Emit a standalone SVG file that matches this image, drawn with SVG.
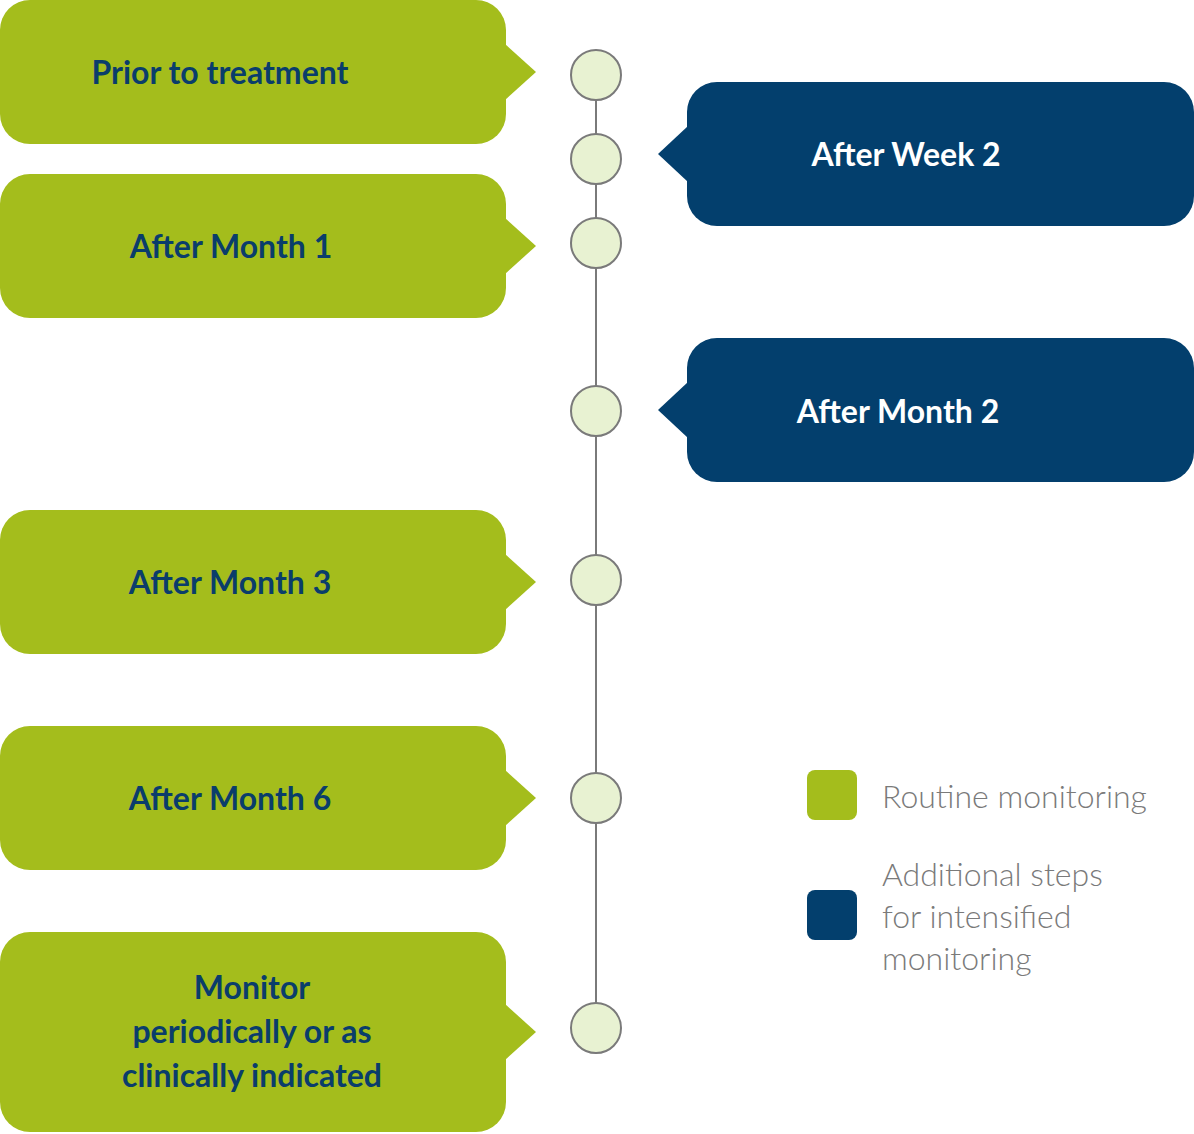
<svg xmlns="http://www.w3.org/2000/svg" width="1194" height="1134" viewBox="0 0 1194 1134">
<style>
.g{fill:#a4bd1c}.b{fill:#033f6d}
.tg{font-family:Lato,"Open Sans",sans-serif;font-weight:bold;font-size:32px;fill:#0a3d6b;text-anchor:middle}
.tb{font-family:Lato,"Open Sans",sans-serif;font-weight:bold;font-size:32px;fill:#fff;text-anchor:middle}
.dot{fill:#e8f2d2;stroke:#7a7a7a;stroke-width:2}
.lg{font-family:Lato,"Open Sans",sans-serif;font-weight:300;font-size:32px;fill:#7a7a7a}
</style>
<g id="connectors"><line x1="596" y1="75" x2="596" y2="1028" stroke="#7a7a7a" stroke-width="2"/></g>
<g id="n1"><rect class="g" x="0" y="0" width="506" height="144" rx="30"/><path class="g" d="M505 44L536 72L505 100Z"/><text class="tg" x="220" y="84">Prior to treatment</text></g>
<g id="n2"><rect class="g" x="0" y="174" width="506" height="144" rx="30"/><path class="g" d="M505 218L536 246L505 274Z"/><text class="tg" x="231" y="258">After Month 1</text></g>
<g id="n3"><rect class="g" x="0" y="510" width="506" height="144" rx="30"/><path class="g" d="M505 554L536 582L505 610Z"/><text class="tg" x="230" y="594">After Month 3</text></g>
<g id="n4"><rect class="g" x="0" y="726" width="506" height="144" rx="30"/><path class="g" d="M505 770L536 798L505 826Z"/><text class="tg" x="230" y="810">After Month 6</text></g>
<g id="n5"><rect class="g" x="0" y="932" width="506" height="200" rx="30"/><path class="g" d="M505 1004L536 1032L505 1060Z"/><text class="tg" x="252" y="999">Monitor</text><text class="tg" x="252" y="1043">periodically or as</text><text class="tg" x="252" y="1087">clinically indicated</text></g>
<g id="b1"><rect class="b" x="687" y="82" width="507" height="144" rx="30"/><path class="b" d="M688 126L658 154L688 182Z"/><text class="tb" x="906" y="166">After Week 2</text></g>
<g id="b2"><rect class="b" x="687" y="338" width="507" height="144" rx="30"/><path class="b" d="M688 382L658 410L688 438Z"/><text class="tb" x="898" y="423">After Month 2</text></g>
<g id="dots"><circle class="dot" cx="596" cy="75" r="25"/><circle class="dot" cx="596" cy="159" r="25"/><circle class="dot" cx="596" cy="243" r="25"/><circle class="dot" cx="596" cy="411" r="25"/><circle class="dot" cx="596" cy="580" r="25"/><circle class="dot" cx="596" cy="798" r="25"/><circle class="dot" cx="596" cy="1028" r="25"/></g>
<g id="legend"><rect class="g" x="807" y="770" width="50" height="50" rx="8"/><text class="lg" x="882" y="808">Routine monitoring</text><rect class="b" x="807" y="890" width="50" height="50" rx="8"/><text class="lg" x="882" y="886">Additional steps</text><text class="lg" x="882" y="928">for intensified</text><text class="lg" x="882" y="970">monitoring</text></g>
</svg>
